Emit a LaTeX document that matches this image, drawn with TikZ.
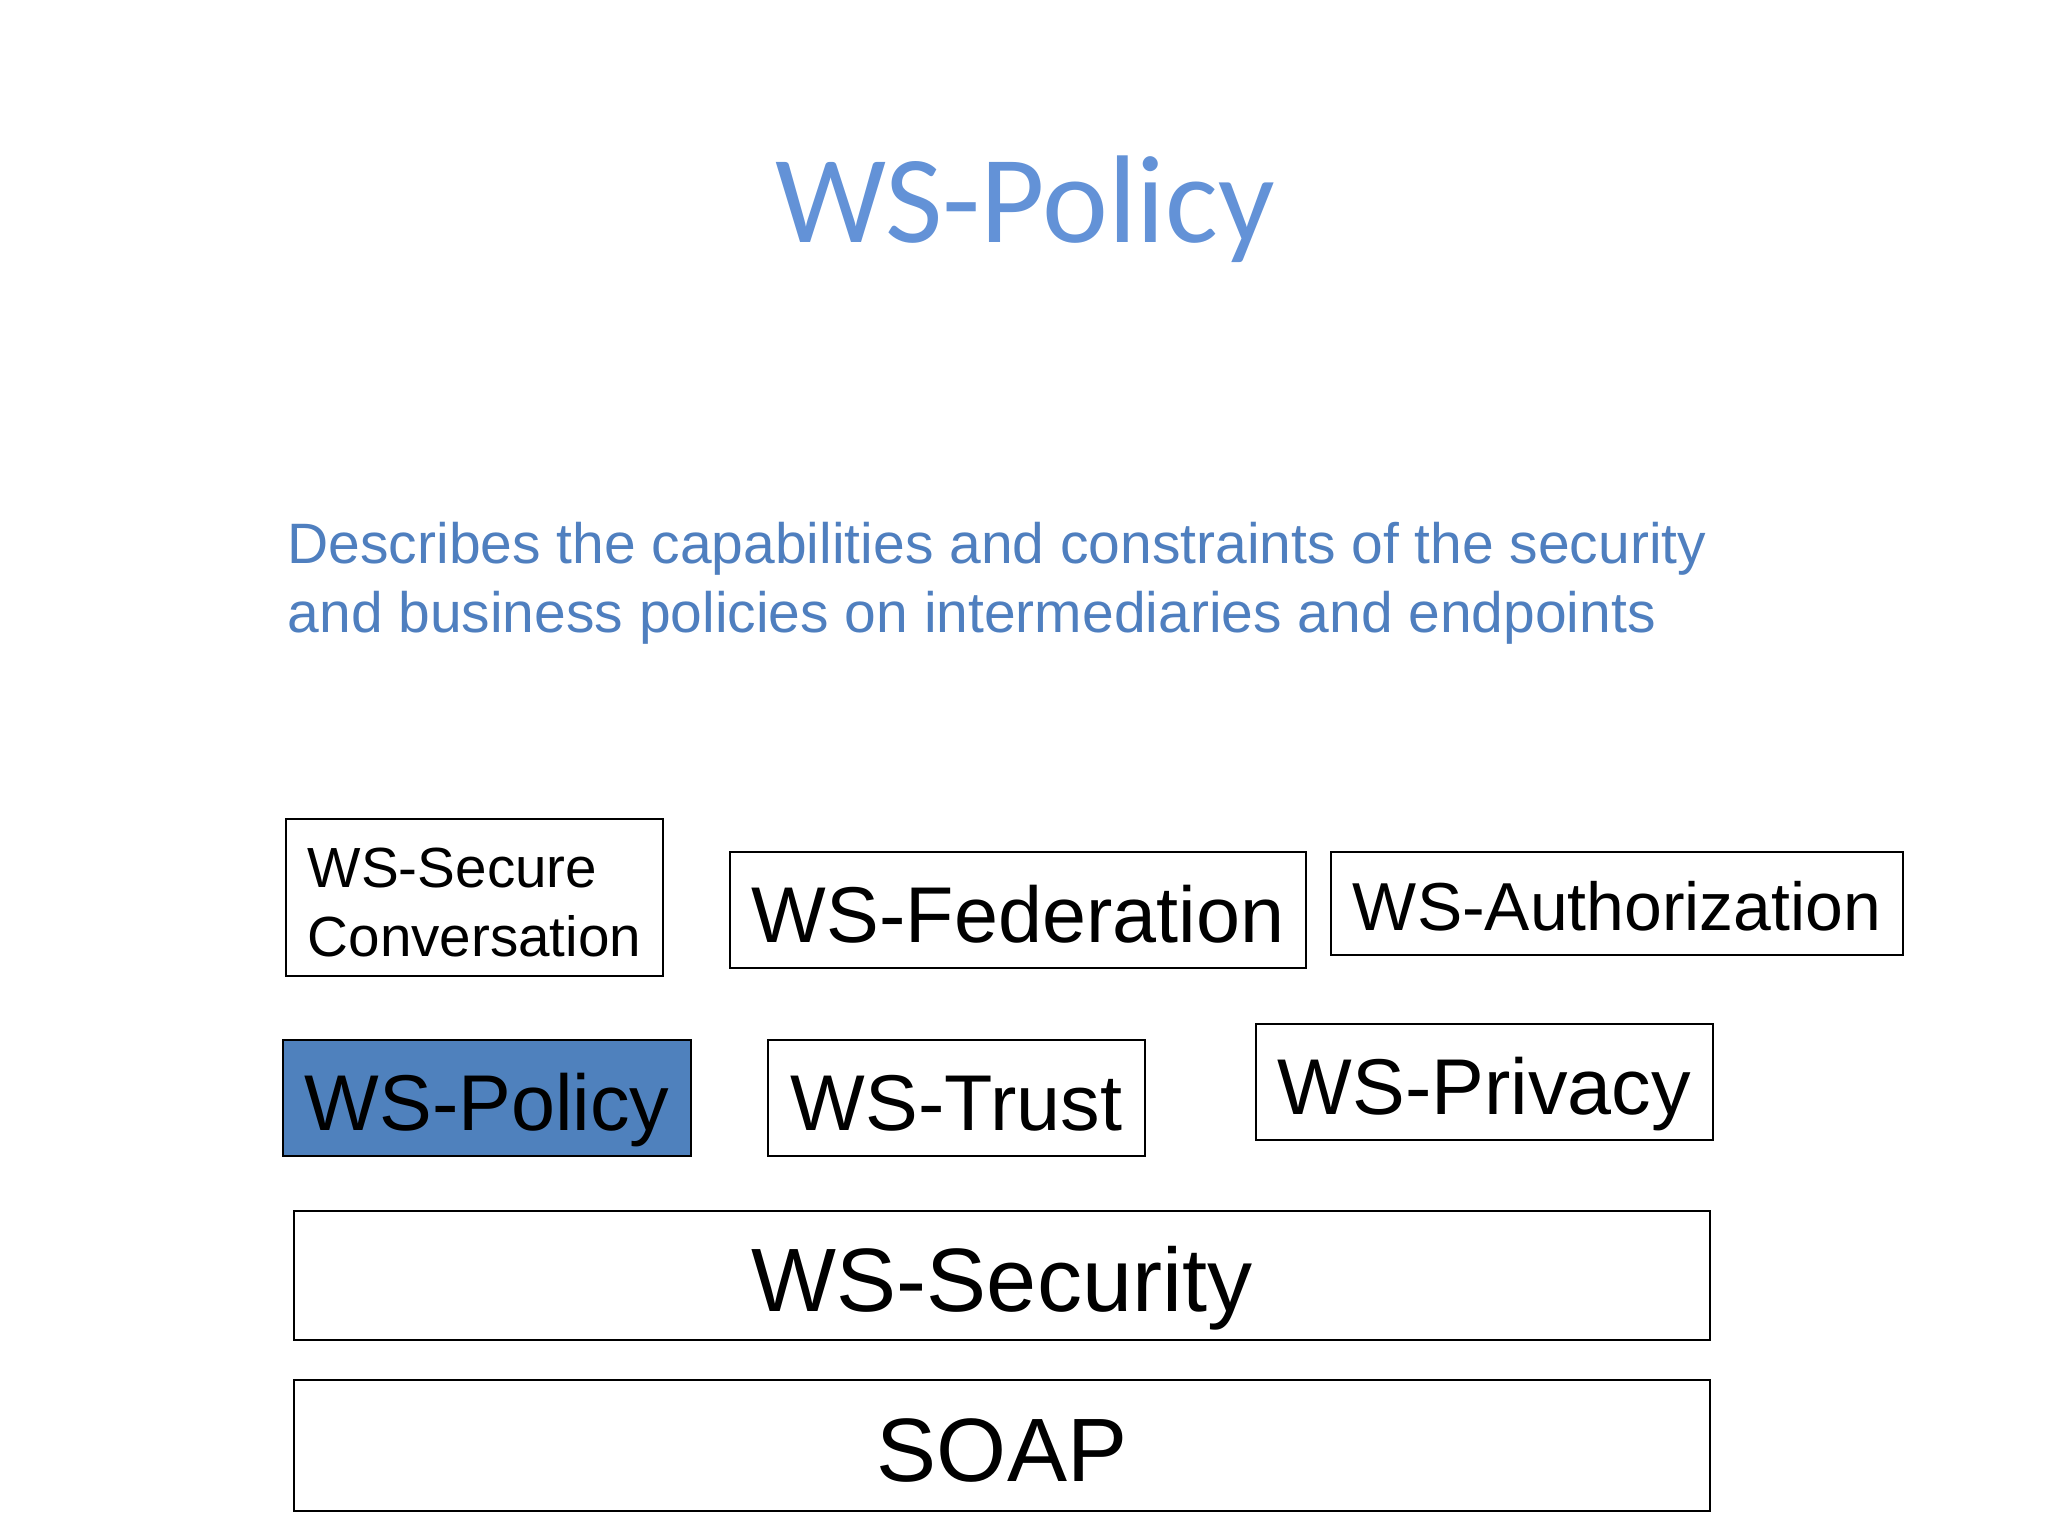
\documentclass[tikz,border=0pt]{standalone}
\usepackage{fontspec}
\setmainfont{Liberation Sans}
\newfontfamily\titlefont{Carlito}
\definecolor{titleblue}{RGB}{99,146,215}
\definecolor{textblue}{RGB}{79,127,191}
\definecolor{policyblue}{RGB}{79,129,189}

\begin{document}
\begin{tikzpicture}[x=0.01cm, y=-0.01cm]
\tikzstyle{box}=[rectangle, draw=black, line width=0.6pt, inner sep=0pt, text depth=0pt]
\tikzstyle{spec}=[box, font=\fontsize{22.5}{27}\selectfont, text height=18.4pt, minimum height=1.16cm]
\tikzstyle{layer}=[box, font=\fontsize{25.6}{30}\selectfont, text height=20.6pt, minimum width=14.16cm]
  \useasboundingbox (0,0) rectangle (2048,1536);
  \node[anchor=base, text=titleblue, font=\titlefont\fontsize{35.5}{43}\selectfont] (title) at (1025,242) {WS-Policy};
  \node[anchor=north west, align=left, inner sep=0pt, text=textblue, font=\fontsize{16.2}{19.35}\selectfont] (desc) at (287,522)
    {Describes the capabilities and constraints of the security\\and business policies on intermediaries and endpoints};
  % upper row
  \node[box, align=left, font=\fontsize{16.1}{19.6}\selectfont, text height=33.3pt, minimum width=3.77cm, minimum height=1.57cm] (secconv) at (474.5,897.5) {WS-Secure\\Conversation};
  \node[spec, minimum width=5.76cm] (fed) at (1018,910) {WS-Federation};
  \node[spec, font=\fontsize{19.3}{23}\selectfont, text height=15.3pt, minimum width=5.72cm, minimum height=1.03cm] (authz) at (1617,903.5) {WS-Authorization};
  % middle row
  \node[spec, fill=policyblue, minimum width=4.08cm] (policy) at (487,1098) {WS-Policy};
  \node[spec, minimum width=3.77cm] (trust) at (956.5,1098) {WS-Trust};
  \node[spec, minimum width=4.57cm] (privacy) at (1484.5,1082) {WS-Privacy};
  % base layers
  \node[layer, minimum height=1.29cm] (security) at (1002,1275.5) {WS-Security};
  \node[layer, minimum height=1.31cm] (soap) at (1002,1445.5) {SOAP};
\end{tikzpicture}
\end{document}
